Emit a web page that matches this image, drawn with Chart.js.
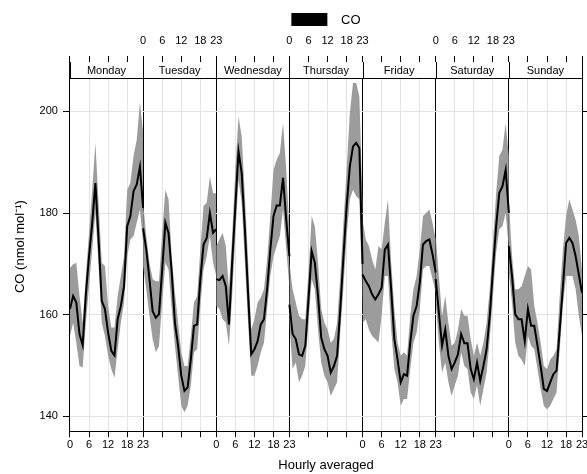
<!DOCTYPE html>
<html>
<head>
<meta charset="utf-8">
<script src="https://cdn.jsdelivr.net/npm/chart.js@4"></script>
<style>
  html, body { margin: 0; padding: 0; background: #fff; }
  #wrap { width: 587px; height: 474px; position: relative; }
</style>
</head>
<body>
<div id="wrap"><canvas id="coChart"></canvas></div>
<script>
// Weekday panels, hours 0..23 in each
const days = ['Monday', 'Tuesday', 'Wednesday', 'Thursday', 'Friday', 'Saturday', 'Sunday'];
const hours = [0, 1, 2, 3, 4, 5, 6, 7, 8, 9, 10, 11, 12, 13, 14, 15, 16, 17, 18, 19, 20, 21, 22, 23];
const hourTicks = [0, 6, 12, 18];
const yTicks = [140, 160, 180, 200];

// CO mean (nmol/mol), one row per weekday
const coMean = [
  [161.1,163.7,162.4,156.2,154.0,164.0,171.5,178.0,185.9,174.8,162.7,161.1,156.5,152.9,152.0,159.1,161.7,165.6,177.4,179.4,184.3,185.6,189.1,181.0],
  [177.0,172.8,167.0,160.7,159.4,160.1,168.9,178.1,176.1,168.3,158.4,153.9,148.0,145.0,145.7,151.2,157.8,158.1,167.0,173.8,175.1,180.0,176.1,176.8],
  [167.0,166.8,167.6,165.6,158.1,170.2,181.3,192.1,187.9,176.8,164.3,152.2,153.2,154.8,158.1,159.1,165.0,172.8,179.4,181.5,181.5,186.9,178.7,171.5],
  [162.0,156.2,155.2,152.2,151.9,153.9,163.0,172.5,170.2,163.7,155.5,153.2,151.9,148.6,149.9,151.9,161.1,171.5,181.3,189.2,193.1,193.8,192.8,170.0],
  [167.9,166.6,165.6,164.0,163.0,164.0,165.3,172.8,173.8,165.0,155.2,151.2,146.7,148.3,148.0,154.5,159.8,161.7,166.3,173.8,174.5,174.8,171.9,168.3],
  [167.0,160.4,153.9,157.1,151.9,149.3,150.6,152.2,156.2,154.4,154.4,149.3,147.3,150.6,147.0,149.9,153.2,159.8,168.9,177.4,184.0,185.3,188.5,180.0],
  [173.5,167.6,160.1,159.1,159.1,154.8,161.1,157.8,157.8,153.9,149.9,145.4,145.0,146.7,148.3,149.0,157.1,165.6,174.1,175.1,174.1,171.5,167.9,164.3]
];

// 95% confidence interval, lower edge
const coLower = [
  [155.8,158.4,154.5,149.9,149.6,158.4,165.6,172.8,180.0,169.6,158.4,155.8,151.9,149.3,147.6,153.2,158.4,162.4,171.5,174.8,175.5,178.1,180.7,174.0],
  [169.6,165.0,159.8,155.2,152.6,153.9,162.4,170.2,168.9,161.1,153.9,148.0,142.1,140.8,142.1,146.1,152.6,153.2,161.7,168.9,171.5,175.5,170.2,167.6],
  [161.7,161.1,159.1,158.4,153.9,163.7,175.5,186.6,182.0,170.2,158.4,148.0,148.0,149.9,152.6,154.5,161.1,167.6,171.5,173.5,175.5,180.7,172.8,165.6],
  [158.4,149.3,150.6,146.7,148.0,149.9,158.4,167.0,165.0,157.1,150.6,148.0,146.7,144.0,145.4,146.7,156.5,165.6,175.5,182.7,184.6,183.3,182.7,162.0],
  [158.4,159.1,157.1,155.8,155.2,154.5,159.8,167.6,167.6,157.1,149.3,146.7,142.1,143.4,143.4,149.3,154.5,156.5,161.1,168.9,169.6,169.6,167.0,164.3],
  [162.4,154.5,148.6,150.6,146.7,144.0,146.1,148.0,152.6,149.9,149.3,144.7,143.4,146.1,142.1,145.4,148.6,155.2,163.7,172.2,176.8,177.4,180.0,172.8],
  [168.3,162.4,154.5,151.9,151.2,149.9,155.8,153.9,153.2,149.3,145.4,142.1,141.4,142.1,143.4,144.7,153.2,161.7,167.6,167.6,167.6,165.0,159.8,155.8]
];

// 95% confidence interval, upper edge
const coUpper = [
  [169.2,169.9,170.2,163.7,158.4,167.6,176.1,184.6,193.8,182.0,170.2,169.6,161.7,157.5,157.5,163.7,167.6,171.5,184.6,185.9,191.2,194.4,201.8,196.0],
  [182.0,175.5,170.2,167.0,166.6,166.6,176.1,184.6,182.7,171.5,164.3,158.4,152.6,149.9,149.9,155.8,162.4,163.7,172.8,181.4,182.0,187.2,183.9,183.9],
  [173.5,174.8,176.1,173.5,165.0,175.5,188.5,199.0,195.1,183.3,170.9,157.1,159.1,162.4,163.4,165.0,170.9,179.4,188.5,190.5,191.8,197.7,188.5,176.8],
  [170.2,165.0,162.4,159.8,159.1,159.1,168.3,179.4,177.4,170.2,161.1,158.4,157.1,154.5,155.2,158.4,167.6,178.1,188.5,199.7,205.6,205.6,202.9,182.0],
  [178.7,174.8,173.5,170.9,168.9,173.5,172.8,178.1,182.7,170.2,161.1,154.5,151.9,152.6,151.9,159.8,165.0,167.6,172.8,179.4,180.0,180.7,178.1,174.8],
  [175.5,167.6,159.8,163.7,158.4,153.9,154.5,157.1,161.1,159.8,159.8,155.2,151.9,154.5,151.9,154.5,158.4,165.0,174.2,183.9,191.2,192.5,197.7,191.2],
  [182.7,171.5,165.0,165.0,165.6,167.6,169.6,168.9,161.7,158.4,154.5,149.9,149.3,151.2,151.9,153.2,163.7,172.8,179.4,182.7,180.7,178.7,175.5,168.9]
];

const SPAN = 23;               // each panel runs 0..23
const X_MAX = SPAN * days.length;
const Y_MIN = 137.08, Y_MAX = 209.71;   // includes strip height above the data
const STRIP_H = 16;
const FONT = 'Liberation Sans, Arial, sans-serif';

// position of hour h in panel d on the shared x axis
const px = (d, h) => d * SPAN + h;

const datasets = [];
days.forEach((day, d) => {
  datasets.push({
    label: day + ' lower',
    data: hours.map(h => ({ x: px(d, h), y: coLower[d][h] })),
    borderWidth: 0, pointRadius: 0, fill: false, order: 2
  });
  datasets.push({
    label: day + ' upper',
    data: hours.map(h => ({ x: px(d, h), y: coUpper[d][h] })),
    borderWidth: 0, pointRadius: 0, backgroundColor: '#9c9c9c',
    fill: '-1', order: 1
  });
  datasets.push({
    label: day,
    data: hours.map(h => ({ x: px(d, h), y: coMean[d][h] })),
    borderColor: '#000', borderWidth: 2, pointRadius: 0, fill: false, order: 0
  });
});

const allTicks = [];
days.forEach((day, d) => hourTicks.forEach(h => allTicks.push(px(d, h))));
allTicks.push(X_MAX);

// bottom labels go on Mon/Wed/Fri/Sun, top labels on Tue/Thu/Sat
function hourLabel(v, labelledParity) {
  const d = Math.floor(v / SPAN);
  const h = v - d * SPAN;
  if (h === 0) {
    if (d < days.length && d % 2 === labelledParity) return '0';
    if (d - 1 >= 0 && (d - 1) % 2 === labelledParity) return '23';
    return '';
  }
  return d % 2 === labelledParity ? String(h) : '';
}

// day-name strip along the top of the panels
const stripPlugin = {
  id: 'strip',
  beforeDatasetsDraw(chart) {
    const { ctx, chartArea: a } = chart;
    const x = chart.scales.x;
    ctx.save();
    ctx.fillStyle = '#fff';
    ctx.fillRect(a.left, a.top, a.right - a.left, STRIP_H);
    ctx.strokeStyle = '#000';
    ctx.lineWidth = 1;
    ctx.beginPath();
    ctx.moveTo(a.left, Math.round(a.top + STRIP_H) + 0.5);
    ctx.lineTo(a.right, Math.round(a.top + STRIP_H) + 0.5);
    for (let d = 0; d <= days.length; d++) {
      const xx = Math.round(x.getPixelForValue(d * SPAN)) + 0.5;
      ctx.moveTo(xx, a.top);
      ctx.lineTo(xx, a.top + STRIP_H);
    }
    ctx.stroke();
    ctx.fillStyle = '#000';
    ctx.font = '11px ' + FONT;
    ctx.textAlign = 'center';
    ctx.textBaseline = 'middle';
    days.forEach((day, d) => {
      ctx.fillText(day, x.getPixelForValue(d * SPAN + SPAN / 2), a.top + STRIP_H / 2 + 1);
    });
    ctx.restore();
  }
};

const gridColor = '#e3e3e3';
// let the last "23" hang over the right edge like the original
const noRightPad = s => { s.paddingRight = 0; };

new Chart(document.getElementById('coChart').getContext('2d'), {
  type: 'line',
  data: { datasets },
  options: {
    responsive: true,
    maintainAspectRatio: false,
    animation: false,
    layout: { padding: { left: 7, right: 0, top: 13, bottom: 0 } },
    plugins: {
      tooltip: { enabled: false },
      legend: {
        position: 'top',
        fullSize: false,
        maxHeight: 13,
        labels: {
          boxWidth: 36, boxHeight: 14, padding: 0,
          color: '#000', font: { family: FONT, size: 13 },
          generateLabels: () => [{ text: '  CO', fillStyle: '#000', strokeStyle: '#000', lineWidth: 0, hidden: false }]
        },
        onClick: null
      }
    },
    scales: {
      x: {
        type: 'linear', position: 'bottom', min: 0, max: X_MAX,
        afterBuildTicks: s => { s.ticks = allTicks.map(v => ({ value: v })); },
        afterFit: noRightPad,
        grid: {
          color: c => (c.tick && c.tick.value % SPAN === 0) ? '#000' : gridColor,
          tickColor: '#000', tickLength: 6
        },
        border: { color: '#000' },
        ticks: {
          autoSkip: false, maxRotation: 0, padding: 1.5,
          color: '#000', font: { family: FONT, size: 11 },
          callback: v => hourLabel(v, 0)
        },
        title: {
          display: true, text: 'Hourly averaged', color: '#000',
          font: { family: FONT, size: 13 }, padding: { top: 4, bottom: 1 }
        }
      },
      x2: {
        type: 'linear', position: 'top', min: 0, max: X_MAX,
        afterBuildTicks: s => { s.ticks = allTicks.map(v => ({ value: v })); },
        afterFit: noRightPad,
        grid: { drawOnChartArea: false, tickColor: '#000', tickLength: 6 },
        border: { color: '#000' },
        ticks: {
          autoSkip: false, maxRotation: 0, padding: 9.5,
          color: '#000', font: { family: FONT, size: 11, lineHeight: 1 },
          callback: v => hourLabel(v, 1)
        }
      },
      y: {
        position: 'left', min: Y_MIN, max: Y_MAX,
        afterBuildTicks: s => { s.ticks = yTicks.map(v => ({ value: v })); },
        grid: { color: gridColor, tickColor: '#000', tickLength: 7 },
        border: { color: '#000' },
        ticks: { padding: 5, color: '#000', font: { family: FONT, size: 11 } },
        title: {
          display: true, text: 'CO (nmol mol⁻¹)', color: '#000',
          font: { family: FONT, size: 13 }, padding: { top: 6, bottom: 6 }
        }
      },
      y2: {
        position: 'right', min: Y_MIN, max: Y_MAX,
        afterBuildTicks: s => { s.ticks = yTicks.map(v => ({ value: v })); },
        grid: { drawOnChartArea: false, tickColor: '#000', tickLength: 5 },
        border: { color: '#000' },
        ticks: { display: false }
      }
    }
  },
  plugins: [stripPlugin]
});
</script>
</body>
</html>
